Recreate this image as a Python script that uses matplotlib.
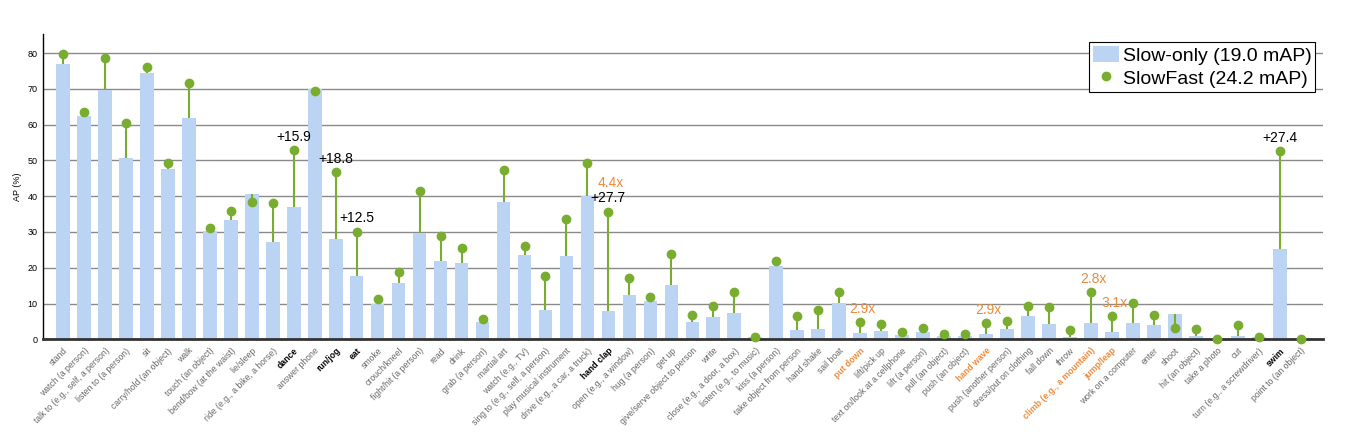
import numpy as np
import matplotlib.pyplot as plt
from matplotlib.lines import Line2D
from matplotlib.patches import Patch

plt.rcParams['font.family'] = ['Liberation Sans', 'DejaVu Sans']

# Catégories AVA (60 classes), triées comme dans la figure
categories = [
    "stand", "watch (a person)", "talk to (e.g., self, a person)", "listen to (a person)",
    "sit", "carry/hold (an object)", "walk", "touch (an object)", "bend/bow (at the waist)",
    "lie/sleep", "ride (e.g., a bike, a horse)", "dance", "answer phone", "run/jog", "eat",
    "smoke", "crouch/kneel", "fight/hit (a person)", "read", "drink", "grab (a person)",
    "martial art", "watch (e.g., TV)", "sing to (e.g., self, a person)",
    "play musical instrument", "drive (e.g., a car, a truck)", "hand clap",
    "open (e.g., a window)", "hug (a person)", "get up", "give/serve object to person",
    "write", "close (e.g., a door, a box)", "listen (e.g., to music)", "kiss (a person)",
    "take object from person", "hand shake", "sail boat", "put down", "lift/pick up",
    "text on/look at a cellphone", "lift (a person)", "pull (an object)", "push (an object)",
    "hand wave", "push (another person)", "dress/put on clothing", "fall down", "throw",
    "climb (e.g., a mountain)", "jump/leap", "work on a computer", "enter", "shoot",
    "hit (an object)", "take a photo", "cut", "turn (e.g., a screwdriver)", "swim",
    "point to (an object)",
]

slow_only = [
    77.0, 62.4, 69.8, 50.6, 74.3, 47.5, 61.9, 30.4, 33.3, 40.5,
    27.1, 37.0, 70.0, 27.9, 17.6, 9.9, 15.7, 29.7, 21.9, 21.4,
    4.8, 38.3, 23.5, 8.2, 23.2, 40.0, 8.0, 12.5, 10.7, 15.1,
    4.8, 6.3, 7.3, 0.7, 20.4, 2.5, 3.0, 10.2, 1.7, 2.4,
    1.3, 2.0, 0.9, 1.0, 1.6, 2.9, 6.6, 4.2, 0.7, 4.6,
    2.0, 4.5, 4.0, 7.0, 0.9, 0.1, 0.9, 0.7, 25.2, 0.1,
]

slowfast = [
    79.7, 63.5, 78.6, 60.5, 76.1, 49.4, 71.5, 31.0, 35.9, 38.4,
    38.2, 52.9, 69.5, 46.7, 30.1, 11.2, 18.9, 41.4, 28.8, 25.5,
    5.7, 47.4, 26.0, 17.8, 33.7, 49.4, 35.7, 17.0, 11.9, 23.7,
    6.8, 9.4, 13.1, 0.7, 21.8, 6.4, 8.2, 13.1, 4.7, 4.3,
    2.0, 3.3, 1.6, 1.4, 4.5, 5.0, 9.2, 8.9, 2.5, 13.1,
    6.4, 10.1, 6.9, 3.3, 2.8, 0.0, 4.1, 0.6, 52.6, 0.0,
]

# classes mises en évidence
gain_classes = {"dance": "+15.9", "run/jog": "+18.8", "eat": "+12.5",
                "hand clap": "+27.7", "swim": "+27.4"}
ratio_classes = {"put down": "2.9x", "hand wave": "2.9x",
                 "climb (e.g., a mountain)": "2.8x", "jump/leap": "3.1x"}

blue = '#bcd4f3'
green = '#78ad2f'
orange = '#ee8a3a'

fig = plt.figure(figsize=(13.66, 4.48), dpi=100)
ax = fig.add_axes([0.0315, 0.2426, 0.937, 0.6814])

x = np.arange(len(categories))
ax.bar(x, slow_only, width=0.65, color=blue, zorder=2)
ax.vlines(x, slow_only, slowfast, color=green, lw=1.5, zorder=3)
ax.plot(x, slowfast, 'o', color=green, ms=6, zorder=4, clip_on=False)

for i, c in enumerate(categories):
    if c in gain_classes:
        ax.text(x[i], slowfast[i] + 3.7, gain_classes[c], ha='center', va='center',
                fontsize=10, color='black')
    if c in ratio_classes:
        ax.text(x[i] + 0.1, slowfast[i] + 3.8, ratio_classes[c], ha='center', va='center',
                fontsize=10, color=orange)
# "4.4x" au-dessus du "+27.7"
i = categories.index("hand clap")
ax.text(x[i] + 0.1, slowfast[i] + 8.1, "4.4x", ha='center', va='center',
        fontsize=10, color=orange)

ax.set_xlim(-0.95, 60.06)
ax.set_ylim(0, 85.3)
ax.set_yticks(range(0, 81, 10))
ax.yaxis.grid(True, color='#8a8a8a', lw=1)
ax.set_axisbelow(True)
ax.tick_params(axis='y', labelsize=6.5, length=0, pad=4)
ax.set_ylabel("AP (%)", fontsize=6.5, labelpad=4)

ax.set_xticks(x)
ax.set_xticklabels(categories, rotation=45, ha='right', rotation_mode='anchor', fontsize=6.2)
ax.tick_params(axis='x', length=0, pad=5)
for lbl in ax.get_xticklabels():
    t = lbl.get_text()
    if t in gain_classes:
        lbl.set_color('black')
        lbl.set_fontweight('bold')
    elif t in ratio_classes:
        lbl.set_color(orange)
        lbl.set_fontweight('bold')
    else:
        lbl.set_color('#666666')

for s in ['top', 'right']:
    ax.spines[s].set_visible(False)
ax.spines['left'].set_color('black')
ax.spines['left'].set_linewidth(1)
ax.spines['bottom'].set_color('#333333')
ax.spines['bottom'].set_linewidth(2)

handles = [Patch(facecolor=blue, edgecolor='none', label="Slow-only (19.0 mAP)"),
           Line2D([], [], marker='o', color=green, ls='none', ms=6, label="SlowFast (24.2 mAP)")]
leg = ax.legend(handles=handles, loc='upper right', fontsize=14, frameon=True,
                fancybox=False, framealpha=1, edgecolor='black', borderpad=0.2,
                handletextpad=0.2, labelspacing=0.2, handlelength=1.3, handleheight=0.95,
                borderaxespad=0.4)
leg.get_frame().set_linewidth(0.8)

fig.savefig("out.png", dpi=100)
